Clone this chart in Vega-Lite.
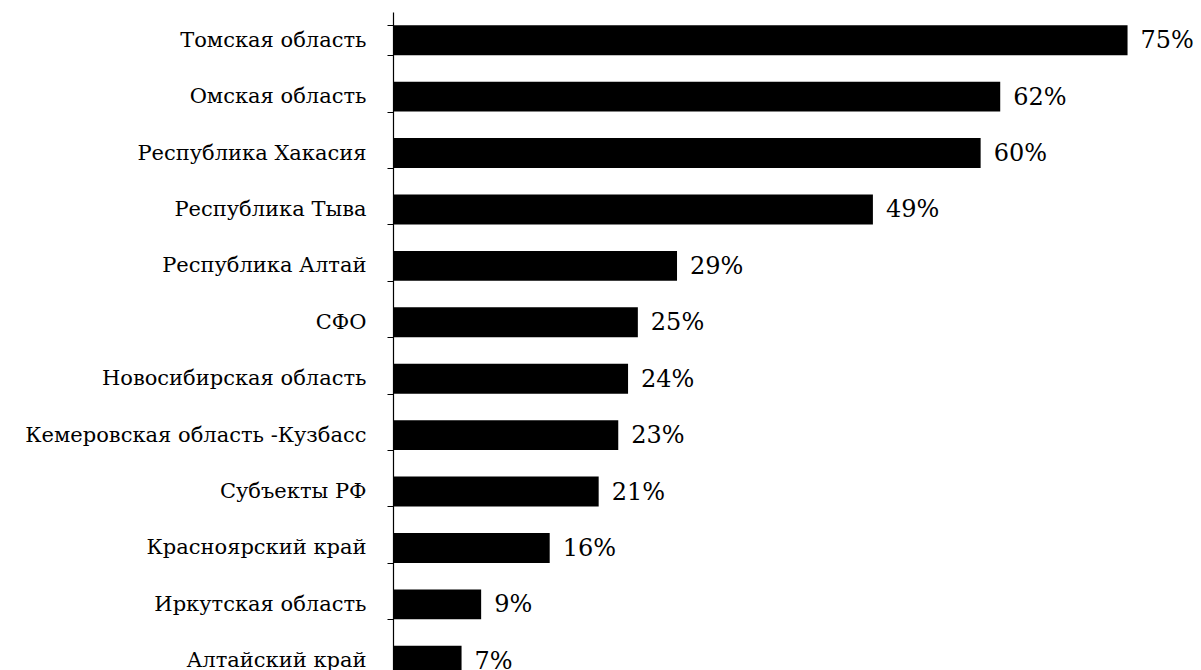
{
  "$schema": "https://vega.github.io/schema/vega-lite/v6.json",
  "autosize": {"type": "none"},
  "padding": {"left": 393, "top": 0, "right": 0, "bottom": 0},
  "width": 808,
  "height": 670,
  "background": "white",
  "config": {"view": {"stroke": null}},
  "data": {
    "values": [
      {"region": "Томская область", "value": 75},
      {"region": "Омская область", "value": 62},
      {"region": "Республика Хакасия", "value": 60},
      {"region": "Республика Тыва", "value": 49},
      {"region": "Республика Алтай", "value": 29},
      {"region": "СФО", "value": 25},
      {"region": "Новосибирская область", "value": 24},
      {"region": "Кемеровская область -Кузбасс", "value": 23},
      {"region": "Субъекты РФ", "value": 21},
      {"region": "Красноярский край", "value": 16},
      {"region": "Иркутская область", "value": 9},
      {"region": "Алтайский край", "value": 7}
    ]
  },
  "transform": [{"calculate": "datum.value + '%'", "as": "label"}],
  "encoding": {
    "y": {
      "field": "region",
      "type": "nominal",
      "sort": null,
      "scale": {"range": [12, 689], "paddingInner": 0.47, "paddingOuter": 0.235},
      "axis": {
        "title": null,
        "domainColor": "black",
        "domainWidth": 1.2,
        "tickColor": "black",
        "tickSize": 6,
        "tickBand": "extent",
        "labelPadding": 21,
        "labelFont": "DejaVu Serif",
        "labelFontSize": 21,
        "labelColor": "black",
        "labelLimit": 400
      }
    },
    "x": {
      "field": "value",
      "type": "quantitative",
      "scale": {"domain": [0, 82.5], "nice": false, "zero": true},
      "axis": null
    }
  },
  "layer": [
    {"mark": {"type": "bar", "color": "black"}},
    {
      "mark": {"type": "text", "align": "left", "baseline": "middle", "dx": 13, "dy": 1, "font": "DejaVu Serif", "fontSize": 24, "color": "black"},
      "encoding": {"text": {"field": "label"}}
    }
  ]
}
